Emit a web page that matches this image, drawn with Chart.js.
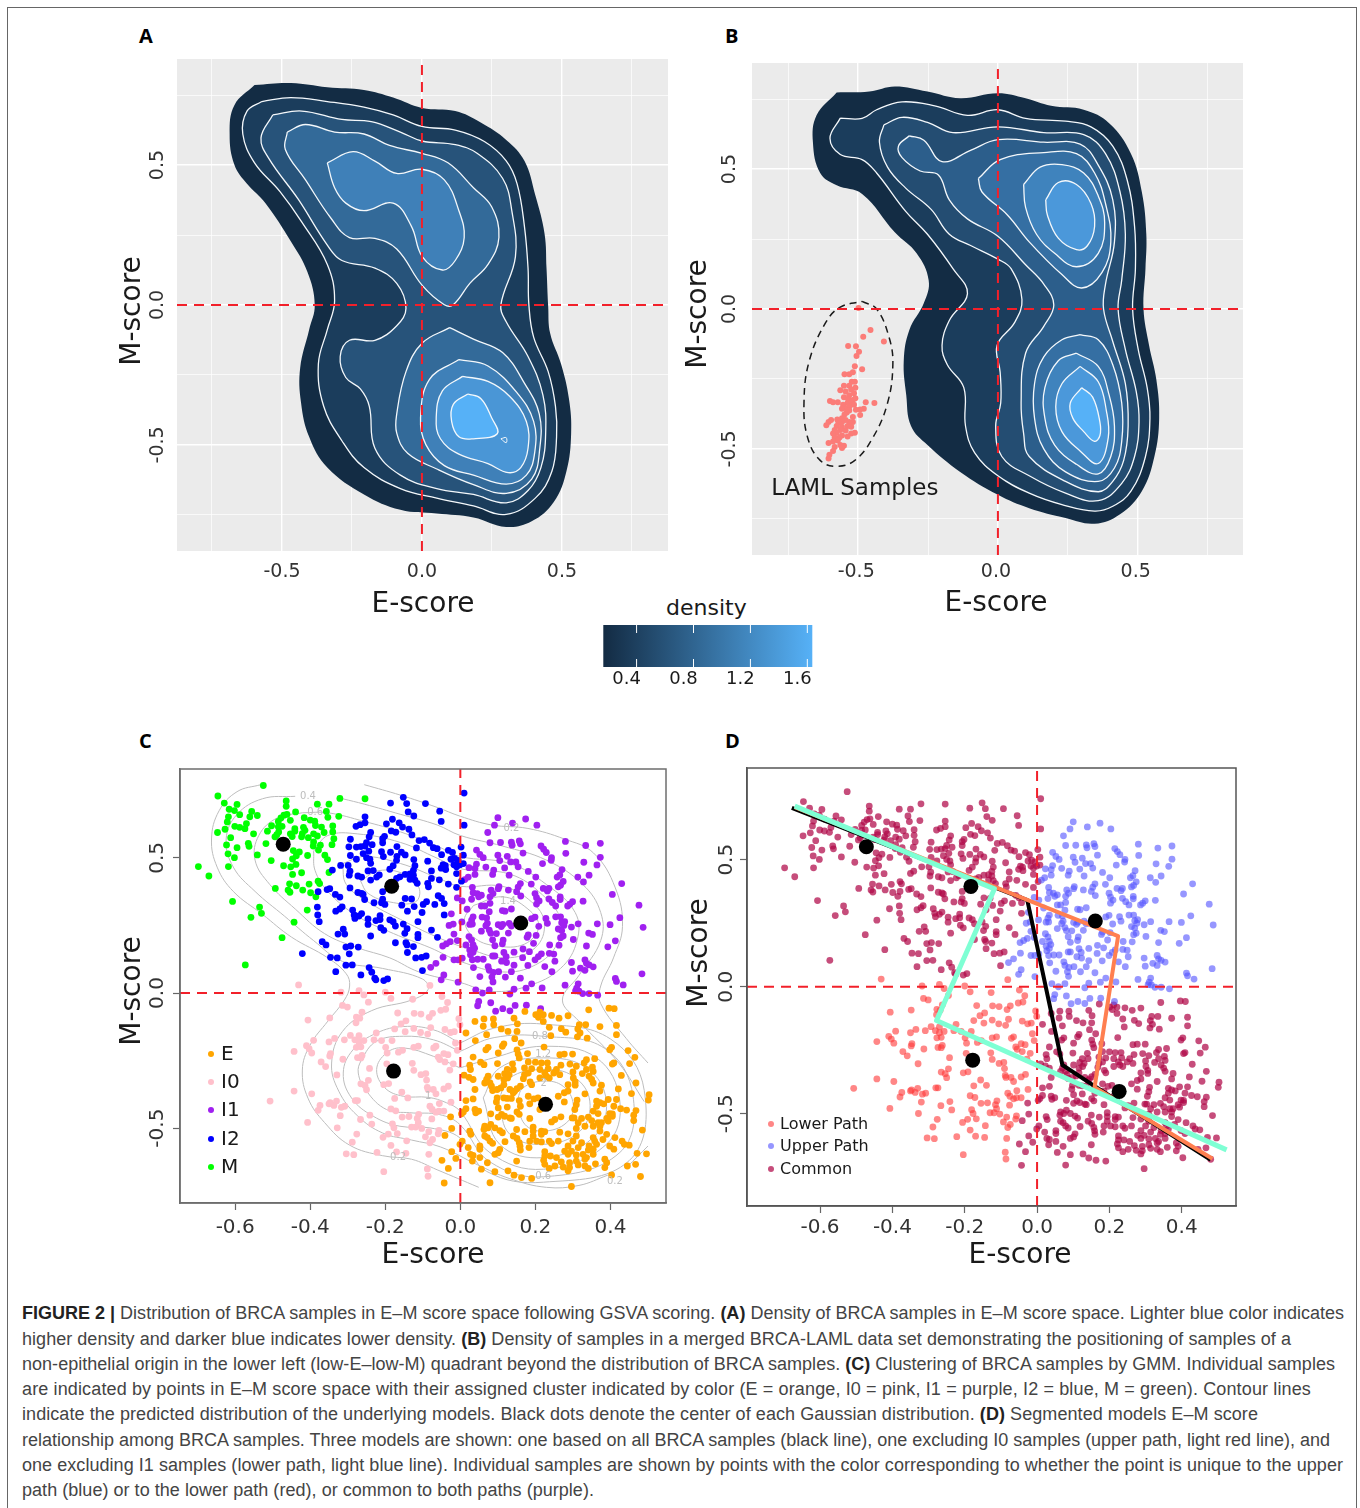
<!DOCTYPE html>
<html>
<head>
<meta charset="utf-8">
<title>Figure 2</title>
<script src="https://cdn.jsdelivr.net/npm/chart.js@4"></script>
<style>
  html, body { margin: 0; padding: 0; background: #fff; }
  #figure { position: relative; width: 1360px; height: 1508px; overflow: hidden; }
  #frame { position: absolute; left: 7px; top: 7px; width: 1348px; height: 1520px; border: 1px solid #666; }
  #figure canvas { position: absolute; }
  .letter { position: absolute; font: bold 20px "Open Sans", sans-serif; color: #000; }
  .density { position: absolute; left: 666px; top: 595px; font: 22px "DejaVu Sans", sans-serif; color: #1a1a1a; }
  .cap { position: absolute; left: 22px; white-space: nowrap; font: 18px/24px "Liberation Sans", sans-serif; color: #444; }
  .cap b { color: #222; }
</style>
</head>
<body>
<div id="figure">
  <div id="frame"></div>
  <div class="letter" style="left:139px;top:22px">A</div>
  <div class="letter" style="left:725px;top:22px">B</div>
  <div class="letter" style="left:139px;top:727px">C</div>
  <div class="letter" style="left:725px;top:727px">D</div>
  <div class="density">density</div>
  <div class="cap" style="top:1301px"><b>FIGURE 2 |</b> Distribution of BRCA samples in E–M score space following GSVA scoring. <b>(A)</b> Density of BRCA samples in E–M score space. Lighter blue color indicates</div>
  <div class="cap" style="top:1327px">higher density and darker blue indicates lower density. <b>(B)</b> Density of samples in a merged BRCA-LAML data set demonstrating the positioning of samples of a</div>
  <div class="cap" style="top:1352px">non-epithelial origin in the lower left (low-E–low-M) quadrant beyond the distribution of BRCA samples. <b>(C)</b> Clustering of BRCA samples by GMM. Individual samples</div>
  <div class="cap" style="top:1377px">are indicated by points in E–M score space with their assigned cluster indicated by color (E = orange, I0 = pink, I1 = purple, I2 = blue, M = green). Contour lines</div>
  <div class="cap" style="top:1402px">indicate the predicted distribution of the underlying models. Black dots denote the center of each Gaussian distribution. <b>(D)</b> Segmented models E–M score</div>
  <div class="cap" style="top:1428px">relationship among BRCA samples. Three models are shown: one based on all BRCA samples (black line), one excluding I0 samples (upper path, light red line), and</div>
  <div class="cap" style="top:1453px">one excluding I1 samples (lower path, light blue line). Individual samples are shown by points with the color corresponding to whether the point is unique to the upper</div>
  <div class="cap" style="top:1478px">path (blue) or to the lower path (red), or common to both paths (purple).</div>
</div>
<script>
// tick labels
const densityGridTicks = [-0.75, -0.5, -0.25, 0, 0.25, 0.5, 0.75];
const densityLabelTicks = [-0.5, 0, 0.5];
const scatterXTicks = [-0.6, -0.4, -0.2, 0, 0.2, 0.4];
const scatterYTicks = [-0.5, 0, 0.5];
const colorbarTicks = [0.4, 0.8, 1.2, 1.6];
const colorbarRange = [0.166, 1.635];

// panel A, density levels (E-score, M-score)
const aLevel0 = [[-0.598,0.786],[-0.468,0.793],[-0.338,0.778],[-0.207,0.768],[-0.103,0.741],[0,0.704],[0.119,0.693],[0.21,0.652],[0.301,0.59],[0.366,0.515],[0.405,0.392],[0.438,0.255],[0.445,0.132],[0.451,-0.005],[0.458,-0.101],[0.497,-0.211],[0.525,-0.334],[0.533,-0.458],[0.516,-0.595],[0.471,-0.704],[0.392,-0.773],[0.301,-0.793],[0.184,-0.759],[0.053,-0.745],[-0.077,-0.732],[-0.207,-0.677],[-0.338,-0.581],[-0.403,-0.471],[-0.432,-0.348],[-0.435,-0.225],[-0.403,-0.088],[-0.383,0.001],[-0.409,0.118],[-0.468,0.227],[-0.559,0.364],[-0.625,0.433],[-0.67,0.501],[-0.687,0.611],[-0.67,0.714]];
const aLevel1 = [[-0.572,0.727],[-0.468,0.741],[-0.338,0.727],[-0.207,0.707],[-0.103,0.679],[0,0.638],[0.119,0.625],[0.223,0.584],[0.301,0.515],[0.34,0.433],[0.366,0.282],[0.379,0.132],[0.382,0.001],[0.399,-0.115],[0.451,-0.238],[0.477,-0.362],[0.481,-0.471],[0.464,-0.595],[0.405,-0.69],[0.301,-0.748],[0.184,-0.718],[0.053,-0.69],[-0.077,-0.656],[-0.207,-0.581],[-0.286,-0.485],[-0.351,-0.362],[-0.37,-0.211],[-0.338,-0.088],[-0.312,0.015],[-0.338,0.145],[-0.429,0.296],[-0.507,0.405],[-0.598,0.508],[-0.64,0.611],[-0.625,0.693]];
const aLevel2 = [[-0.533,0.679],[-0.429,0.693],[-0.286,0.663],[-0.181,0.655],[-0.077,0.618],[0,0.586],[0.119,0.573],[0.197,0.542],[0.288,0.453],[0.321,0.337],[0.334,0.173],[0.282,0.001],[0.301,-0.06],[0.379,-0.184],[0.432,-0.321],[0.442,-0.458],[0.425,-0.581],[0.379,-0.663],[0.301,-0.707],[0.184,-0.677],[0.053,-0.656],[-0.077,-0.608],[-0.168,-0.512],[-0.188,-0.362],[-0.22,-0.3],[-0.272,-0.259],[-0.292,-0.184],[-0.259,-0.126],[-0.168,-0.126],[-0.09,-0.074],[-0.057,-0.012],[-0.09,0.077],[-0.168,0.132],[-0.286,0.159],[-0.338,0.214],[-0.442,0.378],[-0.546,0.522],[-0.575,0.597]];
const aLevel3Upper = [[-0.481,0.618],[-0.416,0.645],[-0.312,0.618],[-0.207,0.611],[-0.116,0.57],[0,0.542],[0.093,0.508],[0.184,0.419],[0.249,0.351],[0.275,0.241],[0.236,0.145],[0.171,0.077],[0.112,0.001],[0.08,0.001],[0.001,0.07],[-0.09,0.2],[-0.168,0.238],[-0.259,0.241],[-0.325,0.31],[-0.416,0.447],[-0.488,0.556]];
const aLevel3Lower = [[0.099,-0.081],[0.184,-0.122],[0.288,-0.17],[0.366,-0.279],[0.419,-0.389],[0.421,-0.512],[0.392,-0.622],[0.301,-0.673],[0.184,-0.642],[0.053,-0.586],[-0.051,-0.53],[-0.09,-0.458],[-0.09,-0.389],[-0.057,-0.238],[0.001,-0.136]];
const aLevel4Upper = [[-0.338,0.508],[-0.246,0.548],[-0.168,0.514],[-0.09,0.47],[0,0.485],[0.08,0.447],[0.132,0.337],[0.151,0.241],[0.119,0.159],[0.073,0.125],[0.001,0.173],[-0.038,0.282],[-0.103,0.364],[-0.207,0.337],[-0.272,0.364],[-0.312,0.419]];
const aLevel4Lower = [[0.132,-0.195],[0.236,-0.218],[0.34,-0.314],[0.399,-0.416],[0.403,-0.526],[0.373,-0.608],[0.301,-0.64],[0.184,-0.608],[0.08,-0.574],[0.014,-0.499],[-0.005,-0.403],[0.027,-0.266]];
const aLevel5 = [[0.145,-0.255],[0.236,-0.273],[0.314,-0.327],[0.373,-0.416],[0.379,-0.512],[0.353,-0.581],[0.308,-0.599],[0.236,-0.567],[0.132,-0.533],[0.066,-0.478],[0.051,-0.403],[0.073,-0.307]];
const aLevel6 = [[0.164,-0.318],[0.21,-0.334],[0.249,-0.403],[0.269,-0.46],[0.184,-0.478],[0.132,-0.471],[0.106,-0.416],[0.112,-0.355]];
const aLevel7 = [[0.282,-0.478],[0.301,-0.474],[0.301,-0.492]];

// panel B, density levels
const bLevel0 = [[-0.577,0.774],[-0.46,0.777],[-0.369,0.795],[-0.252,0.777],[-0.135,0.753],[0,0.771],[0.099,0.753],[0.19,0.726],[0.307,0.712],[0.398,0.664],[0.476,0.555],[0.515,0.418],[0.531,0.267],[0.528,0.144],[0.521,0],[0.541,-0.13],[0.567,-0.253],[0.577,-0.39],[0.56,-0.527],[0.515,-0.651],[0.437,-0.733],[0.346,-0.767],[0.242,-0.747],[0.112,-0.712],[0,-0.664],[-0.135,-0.582],[-0.252,-0.486],[-0.311,-0.418],[-0.328,-0.308],[-0.337,-0.185],[-0.317,-0.075],[-0.265,0.021],[-0.248,0.103],[-0.291,0.199],[-0.369,0.274],[-0.486,0.411],[-0.577,0.442],[-0.636,0.486],[-0.662,0.596],[-0.649,0.692]];
const bLevel1 = [[-0.564,0.682],[-0.486,0.681],[-0.434,0.712],[-0.343,0.74],[-0.226,0.726],[-0.109,0.692],[0,0.712],[0.099,0.681],[0.242,0.671],[0.333,0.651],[0.411,0.582],[0.463,0.459],[0.489,0.295],[0.492,0.144],[0.482,0],[0.502,-0.144],[0.534,-0.281],[0.544,-0.39],[0.528,-0.527],[0.476,-0.651],[0.411,-0.705],[0.346,-0.722],[0.229,-0.699],[0.112,-0.658],[0,-0.596],[-0.083,-0.514],[-0.116,-0.418],[-0.122,-0.281],[-0.181,-0.199],[-0.2,-0.13],[-0.174,-0.041],[-0.109,0.055],[-0.161,0.144],[-0.252,0.267],[-0.33,0.349],[-0.434,0.486],[-0.486,0.534],[-0.564,0.552],[-0.601,0.61]];
const bLevel2 = [[-0.408,0.658],[-0.343,0.685],[-0.252,0.667],[-0.161,0.63],[0,0.651],[0.164,0.63],[0.307,0.623],[0.385,0.555],[0.437,0.418],[0.456,0.267],[0.443,0.103],[0.43,0],[0.456,-0.144],[0.495,-0.295],[0.505,-0.404],[0.489,-0.527],[0.443,-0.623],[0.359,-0.685],[0.242,-0.658],[0.112,-0.596],[0.014,-0.527],[-0.008,-0.418],[0.01,-0.336],[0.008,-0.226],[-0.003,-0.13],[0.06,-0.048],[0.086,0.034],[0.047,0.144],[0,0.178],[-0.096,0.226],[-0.174,0.267],[-0.239,0.356],[-0.33,0.432],[-0.395,0.507],[-0.424,0.596]];
const bLevel3 = [[-0.317,0.619],[-0.265,0.603],[-0.2,0.527],[-0.096,0.568],[0,0.605],[0.164,0.596],[0.294,0.589],[0.359,0.514],[0.411,0.39],[0.417,0.24],[0.385,0.089],[0.378,0],[0.411,-0.116],[0.456,-0.267],[0.466,-0.418],[0.45,-0.541],[0.411,-0.616],[0.359,-0.653],[0.242,-0.616],[0.112,-0.527],[0.092,-0.445],[0.083,-0.336],[0.099,-0.158],[0.164,-0.062],[0.2,0.014],[0.164,0.089],[0.099,0.158],[0,0.26],[-0.109,0.322],[-0.174,0.39],[-0.213,0.479],[-0.278,0.493],[-0.343,0.541],[-0.356,0.582]];
const bLevel4Upper = [[-0.07,0.466],[0.008,0.534],[0.164,0.559],[0.281,0.555],[0.346,0.486],[0.385,0.377],[0.404,0.24],[0.372,0.13],[0.3,0.075],[0.229,0.123],[0.112,0.24],[0.034,0.336],[-0.057,0.418]];
const bLevel4Lower = [[0.294,-0.092],[0.359,-0.11],[0.411,-0.199],[0.443,-0.336],[0.443,-0.473],[0.417,-0.568],[0.359,-0.616],[0.242,-0.582],[0.164,-0.5],[0.131,-0.39],[0.131,-0.267],[0.164,-0.171],[0.229,-0.11]];
const bLevel5Upper = [[0.092,0.445],[0.151,0.507],[0.229,0.516],[0.307,0.486],[0.359,0.404],[0.382,0.308],[0.359,0.199],[0.281,0.151],[0.203,0.199],[0.138,0.267],[0.099,0.363]];
const bLevel5Lower = [[0.281,-0.158],[0.359,-0.205],[0.398,-0.308],[0.417,-0.418],[0.404,-0.527],[0.359,-0.589],[0.281,-0.555],[0.203,-0.486],[0.168,-0.39],[0.168,-0.281],[0.216,-0.185]];
const bLevel6Upper = [[0.171,0.39],[0.216,0.452],[0.281,0.445],[0.333,0.377],[0.346,0.295],[0.32,0.226],[0.281,0.212],[0.216,0.253],[0.177,0.336]];
const bLevel6Lower = [[0.294,-0.205],[0.359,-0.26],[0.388,-0.363],[0.395,-0.459],[0.359,-0.552],[0.294,-0.507],[0.229,-0.438],[0.207,-0.349],[0.229,-0.267]];
const bLevel7 = [[0.3,-0.281],[0.339,-0.315],[0.365,-0.404],[0.365,-0.452],[0.346,-0.473],[0.307,-0.438],[0.268,-0.39],[0.259,-0.336]];
const lamlOutline = [[-0.486,0.027],[-0.434,0],[-0.389,-0.103],[-0.376,-0.199],[-0.395,-0.336],[-0.447,-0.459],[-0.512,-0.541],[-0.577,-0.562],[-0.636,-0.541],[-0.681,-0.459],[-0.694,-0.336],[-0.675,-0.185],[-0.616,-0.048],[-0.564,0.007]];
const lamlSamples = [[-0.499,0.004],[-0.456,-0.075],[-0.482,-0.099],[-0.408,-0.116],[-0.536,-0.132],[-0.508,-0.133],[-0.497,-0.153],[-0.506,-0.168],[-0.512,-0.205],[-0.486,-0.215],[-0.549,-0.233],[-0.532,-0.233],[-0.519,-0.226],[-0.523,-0.26],[-0.512,-0.26],[-0.532,-0.274],[-0.551,-0.274],[-0.564,-0.29],[-0.51,-0.281],[-0.525,-0.288],[-0.545,-0.295],[-0.515,-0.301],[-0.532,-0.308],[-0.551,-0.315],[-0.51,-0.319],[-0.536,-0.322],[-0.519,-0.325],[-0.525,-0.336],[-0.538,-0.336],[-0.554,-0.342],[-0.601,-0.329],[-0.59,-0.333],[-0.573,-0.333],[-0.473,-0.333],[-0.442,-0.336],[-0.515,-0.342],[-0.532,-0.349],[-0.549,-0.353],[-0.558,-0.356],[-0.48,-0.356],[-0.493,-0.359],[-0.508,-0.36],[-0.532,-0.363],[-0.541,-0.37],[-0.549,-0.377],[-0.493,-0.379],[-0.519,-0.386],[-0.558,-0.39],[-0.575,-0.395],[-0.597,-0.397],[-0.606,-0.404],[-0.614,-0.415],[-0.519,-0.404],[-0.532,-0.404],[-0.545,-0.397],[-0.558,-0.404],[-0.571,-0.407],[-0.577,-0.418],[-0.538,-0.418],[-0.525,-0.421],[-0.558,-0.422],[-0.584,-0.432],[-0.564,-0.432],[-0.545,-0.434],[-0.512,-0.442],[-0.525,-0.445],[-0.577,-0.442],[-0.59,-0.445],[-0.558,-0.452],[-0.567,-0.459],[-0.584,-0.459],[-0.538,-0.456],[-0.573,-0.47],[-0.59,-0.473],[-0.606,-0.479],[-0.564,-0.486],[-0.551,-0.489],[-0.558,-0.497],[-0.584,-0.493],[-0.59,-0.507],[-0.603,-0.521],[-0.606,-0.534]];

// samples by GMM cluster, same samples in panels C and D
const clusterM = [[-0.525,0.768],[-0.646,0.729],[-0.629,0.703],[-0.595,0.698],[-0.616,0.68],[-0.602,0.675],[-0.588,0.66],[-0.618,0.652],[-0.621,0.633],[-0.556,0.672],[-0.561,0.652],[-0.541,0.657],[-0.57,0.627],[-0.601,0.617],[-0.588,0.613],[-0.574,0.608],[-0.627,0.606],[-0.647,0.594],[-0.551,0.589],[-0.612,0.575],[-0.623,0.548],[-0.595,0.538],[-0.565,0.554],[-0.563,0.543],[-0.619,0.515],[-0.602,0.501],[-0.541,0.511],[-0.518,0.553],[-0.698,0.468],[-0.618,0.468],[-0.67,0.433],[-0.504,0.49],[-0.471,0.471],[-0.464,0.711],[-0.464,0.691],[-0.439,0.67],[-0.381,0.699],[-0.35,0.699],[-0.357,0.672],[-0.353,0.65],[-0.462,0.661],[-0.47,0.658],[-0.478,0.648],[-0.485,0.635],[-0.453,0.639],[-0.503,0.619],[-0.485,0.615],[-0.475,0.617],[-0.514,0.599],[-0.484,0.596],[-0.489,0.586],[-0.494,0.578],[-0.441,0.608],[-0.441,0.599],[-0.453,0.589],[-0.448,0.579],[-0.416,0.649],[-0.4,0.64],[-0.388,0.636],[-0.386,0.62],[-0.418,0.613],[-0.414,0.602],[-0.421,0.59],[-0.423,0.578],[-0.405,0.575],[-0.391,0.589],[-0.381,0.581],[-0.37,0.614],[-0.363,0.594],[-0.34,0.618],[-0.34,0.596],[-0.337,0.571],[-0.342,0.549],[-0.391,0.559],[-0.392,0.544],[-0.373,0.547],[-0.378,0.529],[-0.445,0.527],[-0.429,0.522],[-0.437,0.508],[-0.447,0.496],[-0.407,0.509],[-0.361,0.51],[-0.354,0.494],[-0.438,0.476],[-0.452,0.467],[-0.423,0.445],[-0.447,0.439],[-0.35,0.446],[-0.455,0.404],[-0.437,0.397],[-0.403,0.403],[-0.379,0.414],[-0.375,0.405],[-0.493,0.387],[-0.459,0.381],[-0.454,0.373],[-0.42,0.381],[-0.399,0.371],[-0.385,0.356],[-0.607,0.339],[-0.535,0.318],[-0.53,0.295],[-0.558,0.28],[-0.408,0.307],[-0.443,0.262],[-0.475,0.205],[-0.573,0.104],[-0.321,0.72],[-0.254,0.719],[-0.324,0.654]];
const clusterI2 = [[0.01,0.74],[-0.152,0.724],[-0.186,0.703],[-0.143,0.701],[-0.093,0.701],[-0.139,0.67],[-0.055,0.673],[-0.124,0.655],[-0.051,0.635],[-0.254,0.652],[0.01,0.621],[-0.254,0.63],[-0.267,0.623],[-0.278,0.617],[-0.181,0.643],[-0.197,0.626],[-0.163,0.63],[-0.154,0.614],[-0.184,0.6],[-0.172,0.595],[-0.137,0.606],[-0.129,0.585],[-0.239,0.594],[-0.243,0.578],[-0.293,0.569],[-0.202,0.58],[-0.207,0.571],[-0.11,0.564],[-0.096,0.568],[-0.082,0.555],[-0.25,0.556],[-0.235,0.549],[-0.297,0.541],[-0.277,0.54],[-0.265,0.542],[-0.254,0.544],[-0.207,0.556],[-0.169,0.542],[-0.117,0.537],[-0.072,0.538],[-0.062,0.534],[-0.032,0.528],[-0.021,0.52],[0.002,0.54],[0.008,0.51],[-0.21,0.523],[-0.244,0.525],[-0.259,0.516],[-0.186,0.521],[-0.157,0.521],[-0.147,0.511],[-0.293,0.509],[-0.25,0.501],[-0.277,0.495],[-0.205,0.505],[-0.169,0.506],[-0.17,0.491],[-0.05,0.512],[-0.124,0.494],[-0.087,0.488],[-0.025,0.495],[-0.015,0.498],[-0.006,0.491],[-0.017,0.475],[-0.001,0.475],[-0.01,0.467],[0.008,0.479],[-0.241,0.495],[-0.239,0.48],[-0.179,0.471],[-0.319,0.472],[-0.299,0.472],[-0.121,0.471],[-0.188,0.458],[-0.046,0.475],[-0.04,0.471],[-0.051,0.462],[-0.341,0.455],[-0.294,0.451],[-0.246,0.452],[-0.232,0.453],[-0.125,0.454],[-0.077,0.452],[-0.039,0.457],[-0.01,0.442],[-0.296,0.436],[-0.134,0.441],[-0.147,0.439],[-0.161,0.43],[-0.125,0.436],[-0.273,0.433],[-0.263,0.429],[-0.216,0.437],[-0.223,0.429],[-0.239,0.418],[-0.17,0.424],[-0.134,0.421],[-0.121,0.418],[-0.115,0.406],[-0.077,0.424],[-0.056,0.419],[-0.087,0.406],[-0.032,0.403],[0.003,0.414],[-0.294,0.389],[-0.085,0.393],[-0.01,0.391],[-0.273,0.372],[-0.263,0.369],[-0.355,0.383],[-0.348,0.386],[-0.379,0.375],[-0.207,0.375],[-0.259,0.365],[-0.333,0.365],[-0.321,0.355],[-0.255,0.346],[-0.147,0.35],[-0.13,0.348],[-0.059,0.36],[-0.05,0.35],[-0.23,0.334],[-0.207,0.347],[-0.21,0.334],[-0.201,0.328],[-0.156,0.325],[-0.09,0.338],[-0.099,0.328],[-0.123,0.32],[-0.141,0.303],[-0.068,0.328],[-0.043,0.331],[-0.381,0.318],[-0.315,0.319],[-0.321,0.311],[-0.332,0.303],[-0.287,0.307],[-0.102,0.298],[-0.043,0.289],[-0.38,0.289],[-0.283,0.289],[-0.281,0.276],[-0.27,0.285],[-0.263,0.294],[-0.376,0.264],[-0.246,0.274],[-0.246,0.254],[-0.225,0.268],[-0.214,0.272],[-0.214,0.286],[-0.188,0.271],[-0.179,0.264],[-0.113,0.264],[-0.173,0.248],[-0.152,0.255],[-0.212,0.242],[-0.204,0.232],[-0.142,0.238],[-0.148,0.221],[-0.077,0.233],[-0.312,0.236],[-0.326,0.218],[-0.308,0.218],[-0.113,0.217],[-0.113,0.205],[-0.061,0.206],[-0.239,0.211],[-0.368,0.19],[-0.358,0.178],[-0.173,0.186],[-0.145,0.186],[-0.142,0.178],[-0.125,0.172],[-0.305,0.17],[-0.292,0.174],[-0.272,0.17],[-0.141,0.15],[-0.296,0.145],[-0.421,0.146],[-0.346,0.132],[-0.328,0.13],[-0.119,0.13],[-0.103,0.132],[-0.091,0.137],[-0.305,0.103],[-0.288,0.104],[-0.332,0.079],[-0.243,0.094],[-0.265,0.067],[-0.236,0.077],[-0.228,0.055],[-0.225,0.049],[-0.204,0.046],[-0.194,0.052],[-0.101,0.083]];
const clusterI1 = [[0.1,0.649],[0.174,0.644],[0.091,0.621],[0.139,0.629],[0.204,0.621],[0.073,0.594],[0.079,0.556],[0.107,0.557],[0.136,0.558],[0.138,0.547],[0.157,0.563],[0.16,0.552],[0.28,0.561],[0.334,0.546],[0.373,0.554],[0.215,0.544],[0.222,0.532],[0.229,0.52],[0.281,0.517],[0.043,0.529],[0.052,0.513],[0.061,0.501],[0.1,0.51],[0.125,0.506],[0.167,0.518],[0.243,0.501],[0.242,0.491],[0.373,0.502],[0.329,0.484],[0.364,0.474],[0.105,0.49],[0.134,0.485],[0.148,0.485],[0.219,0.479],[0.154,0.467],[0.043,0.477],[0.039,0.461],[0.023,0.464],[0.068,0.466],[0.118,0.463],[0.089,0.455],[0.086,0.439],[0.181,0.45],[0.271,0.457],[0.201,0.429],[0.13,0.436],[0.039,0.439],[0.021,0.429],[0.012,0.42],[0.265,0.437],[0.258,0.429],[0.313,0.429],[0.343,0.436],[0.328,0.411],[0.274,0.413],[0.267,0.399],[0.261,0.393],[0.43,0.405],[0.16,0.405],[0.154,0.392],[0.189,0.403],[0.103,0.394],[0.101,0.386],[0.128,0.381],[0.15,0.375],[0.032,0.391],[0.034,0.371],[0.045,0.368],[0.056,0.362],[0.049,0.356],[0.082,0.381],[0.087,0.368],[0.079,0.356],[0.221,0.387],[0.236,0.387],[0.232,0.378],[0.199,0.368],[0.161,0.359],[0.405,0.365],[0.203,0.353],[0.21,0.341],[0.266,0.356],[0.266,0.346],[0.236,0.348],[-0.008,0.352],[0.005,0.341],[0.03,0.347],[0.079,0.332],[0.245,0.335],[0.254,0.322],[0.299,0.338],[0.292,0.329],[0.286,0.322],[0.327,0.34],[0.203,0.329],[0.056,0.322],[0.065,0.322],[0.476,0.325],[0.018,0.31],[0.077,0.301],[0.112,0.305],[0.136,0.311],[0.119,0.303],[-0.024,0.293],[0.058,0.281],[0.07,0.278],[0.034,0.282],[0.03,0.27],[0.199,0.281],[0.19,0.275],[0.228,0.276],[0.254,0.282],[0.267,0.282],[0.278,0.264],[0.425,0.279],[-0.019,0.255],[-0.03,0.25],[0.004,0.263],[0.025,0.254],[0.032,0.255],[0.072,0.258],[0.068,0.249],[0.101,0.253],[0.113,0.254],[0.109,0.246],[0.13,0.258],[0.136,0.248],[0.209,0.247],[0.232,0.258],[0.27,0.26],[0.276,0.25],[0.261,0.237],[0.27,0.231],[0.296,0.244],[0.314,0.256],[0.365,0.256],[0.399,0.253],[0.487,0.243],[0.056,0.229],[0.077,0.233],[0.081,0.221],[0.096,0.22],[0.128,0.222],[0.181,0.215],[0.178,0.206],[0.202,0.213],[0.274,0.211],[0.267,0.205],[-0.017,0.218],[0.342,0.222],[0.352,0.217],[0.301,0.198],[0.413,0.193],[0.023,0.209],[0.03,0.196],[0.086,0.197],[0.114,0.196],[0.112,0.182],[0.092,0.175],[0.195,0.184],[0.238,0.178],[0.263,0.177],[0.336,0.174],[0.393,0.171],[-0.008,0.194],[-0.027,0.19],[-0.037,0.182],[-0.047,0.174],[0.015,0.178],[0.034,0.178],[0.038,0.166],[0.025,0.159],[0.034,0.151],[0.027,0.142],[0.167,0.163],[0.184,0.153],[0.143,0.151],[0.116,0.15],[0.092,0.137],[0.086,0.137],[0.122,0.135],[0.216,0.145],[0.208,0.135],[0.199,0.123],[0.237,0.147],[0.249,0.144],[0.166,0.131],[-0.046,0.132],[-0.017,0.123],[-0.006,0.123],[0.005,0.129],[0.032,0.123],[0.046,0.125],[0.061,0.125],[0.11,0.118],[0.123,0.113],[0.143,0.103],[0.18,0.102],[0.252,0.118],[0.225,0.098],[0.296,0.113],[0.332,0.123],[0.336,0.11],[0.343,0.104],[0.354,0.097],[-0.065,0.11],[-0.079,0.095],[0.035,0.094],[0.074,0.098],[0.077,0.084],[0.136,0.079],[0.102,0.079],[0.088,0.076],[0.052,0.061],[0.244,0.079],[0.299,0.081],[0.32,0.092],[0.332,0.084],[0.484,0.071],[-0.044,0.067],[-0.051,0.049],[-0.006,0.04],[0.084,0.059],[0.087,0.041],[0.12,0.059],[0.16,0.055],[0.413,0.054],[0.416,0.043],[0.434,0.03],[0.19,0.034],[0.175,0.018],[0.218,0.019],[0.279,0.029],[0.314,0.034],[0.31,0.018],[0.307,0.008],[0.316,0.007],[0.143,0.014],[0.041,0.012],[0.077,0.012],[0.059,0],[0.132,-0.004],[0.326,-0.002],[0.343,-0.002],[0.366,-0.008],[0.049,-0.031],[0.046,-0.047],[0.081,-0.036],[0.094,-0.067],[0.113,-0.058],[0.132,-0.066],[0.146,-0.046],[0.176,-0.045],[0.214,-0.058]];
const clusterI0 = [[-0.431,0.03],[-0.318,0.003],[-0.27,0.009],[-0.257,-0.007],[-0.2,0.003],[-0.185,-0.02],[-0.081,0.028],[-0.127,-0.023],[-0.049,-0.013],[-0.034,-0.035],[-0.245,-0.034],[-0.314,-0.046],[-0.301,-0.052],[-0.052,-0.064],[-0.039,-0.06],[-0.167,-0.074],[-0.123,-0.075],[-0.105,-0.078],[-0.074,-0.075],[-0.083,-0.09],[-0.262,-0.071],[-0.277,-0.089],[-0.268,-0.093],[-0.348,-0.092],[-0.406,-0.1],[-0.278,-0.11],[-0.145,-0.103],[-0.158,-0.114],[-0.004,-0.095],[-0.001,-0.117],[-0.175,-0.133],[-0.124,-0.131],[-0.147,-0.143],[-0.079,-0.128],[-0.106,-0.146],[-0.041,-0.135],[-0.087,-0.152],[-0.026,-0.146],[-0.016,-0.143],[-0.224,-0.148],[-0.293,-0.157],[-0.27,-0.158],[-0.335,-0.168],[-0.309,-0.173],[-0.23,-0.173],[-0.391,-0.175],[-0.281,-0.173],[-0.257,-0.176],[-0.21,-0.176],[-0.182,-0.176],[-0.35,-0.181],[-0.27,-0.181],[-0.013,-0.185],[-0.41,-0.195],[-0.199,-0.201],[-0.277,-0.201],[-0.265,-0.199],[-0.112,-0.197],[-0.124,-0.201],[-0.065,-0.197],[-0.071,-0.203],[-0.008,-0.212],[-0.403,-0.206],[-0.443,-0.216],[-0.396,-0.222],[-0.195,-0.222],[-0.154,-0.212],[-0.165,-0.219],[-0.044,-0.224],[-0.033,-0.228],[-0.346,-0.224],[-0.348,-0.233],[-0.262,-0.231],[-0.274,-0.239],[-0.265,-0.24],[-0.059,-0.237],[-0.055,-0.246],[-0.041,-0.255],[-0.019,-0.262],[-0.313,-0.245],[-0.371,-0.255],[-0.359,-0.272],[-0.196,-0.262],[-0.128,-0.26],[-0.242,-0.279],[-0.124,-0.286],[-0.028,-0.285],[-0.105,-0.302],[-0.092,-0.298],[-0.329,-0.303],[-0.245,-0.323],[-0.09,-0.322],[-0.265,-0.336],[-0.254,-0.342],[-0.204,-0.339],[-0.191,-0.335],[-0.032,-0.345],[-0.044,-0.355],[-0.088,-0.349],[-0.086,-0.357],[-0.25,-0.358],[-0.443,-0.363],[-0.072,-0.357],[-0.065,-0.373],[-0.396,-0.373],[-0.156,-0.367],[-0.175,-0.39],[-0.14,-0.388],[-0.274,-0.398],[-0.28,-0.398],[-0.507,-0.4],[-0.347,-0.406],[-0.35,-0.41],[-0.33,-0.4],[-0.337,-0.416],[-0.025,-0.404],[-0.056,-0.409],[-0.374,-0.416],[-0.308,-0.419],[-0.317,-0.423],[-0.379,-0.434],[-0.185,-0.429],[-0.172,-0.436],[-0.081,-0.419],[-0.075,-0.431],[-0.057,-0.437],[-0.044,-0.437],[-0.065,-0.441],[-0.241,-0.452],[-0.32,-0.454],[-0.111,-0.449],[-0.137,-0.457],[-0.155,-0.459],[-0.266,-0.468],[-0.076,-0.466],[-0.115,-0.464],[-0.407,-0.479],[-0.236,-0.485],[-0.181,-0.484],[-0.177,-0.499],[-0.112,-0.48],[-0.13,-0.496],[-0.119,-0.496],[-0.103,-0.501],[-0.328,-0.499],[-0.276,-0.522],[-0.192,-0.522],[-0.168,-0.52],[-0.084,-0.513],[-0.057,-0.508],[-0.059,-0.521],[-0.093,-0.532],[-0.206,-0.534],[-0.143,-0.547],[-0.074,-0.542],[-0.081,-0.554],[-0.288,-0.552],[-0.185,-0.564],[-0.222,-0.59],[-0.304,-0.595],[-0.284,-0.598],[-0.17,-0.588],[-0.145,-0.593],[-0.084,-0.597],[-0.088,-0.651],[-0.204,-0.661],[-0.086,-0.678]];
const clusterE = [[0.172,-0.068],[0.201,-0.08],[0.212,-0.071],[0.221,-0.08],[0.208,-0.09],[0.243,-0.083],[0.263,-0.093],[0.287,-0.084],[0.342,-0.062],[0.396,-0.056],[0.41,-0.058],[0.143,-0.093],[0.088,-0.096],[0.063,-0.096],[0.039,-0.105],[0.089,-0.117],[0.061,-0.123],[0.152,-0.114],[0.221,-0.105],[0.334,-0.117],[0.372,-0.124],[0.416,-0.12],[0.237,-0.127],[0.269,-0.132],[0.281,-0.145],[0.317,-0.117],[0.313,-0.133],[0.319,-0.148],[0.109,-0.133],[0.127,-0.142],[0.151,-0.142],[0.015,-0.148],[0.07,-0.154],[0.241,-0.158],[0.312,-0.162],[0.338,-0.167],[0.416,-0.154],[0.145,-0.169],[0.04,-0.176],[0.162,-0.185],[0.116,-0.188],[0.112,-0.197],[0.074,-0.201],[0.068,-0.21],[0.223,-0.2],[0.403,-0.201],[0.398,-0.21],[0.447,-0.213],[0.151,-0.21],[0.154,-0.226],[0.101,-0.222],[0.179,-0.224],[0.265,-0.228],[0.277,-0.226],[0.299,-0.226],[0.034,-0.237],[0.465,-0.238],[0.157,-0.24],[0.358,-0.243],[0.336,-0.247],[0.33,-0.259],[0.409,-0.259],[0.405,-0.263],[0.054,-0.256],[0.063,-0.265],[0.099,-0.261],[0.139,-0.262],[0.181,-0.255],[0.2,-0.256],[0.216,-0.259],[0.232,-0.259],[0.268,-0.267],[0.451,-0.261],[0.025,-0.267],[0.292,-0.263],[0.309,-0.271],[0.352,-0.274],[0.336,-0.283],[0.027,-0.283],[0.125,-0.283],[0.141,-0.283],[0.171,-0.277],[0.19,-0.28],[0.212,-0.283],[0.234,-0.28],[0.256,-0.283],[0.3,-0.292],[0.354,-0.29],[0.01,-0.304],[0.023,-0.312],[0.034,-0.32],[0.074,-0.308],[0.101,-0.308],[0.118,-0.298],[0.13,-0.302],[0.171,-0.302],[0.181,-0.296],[0.225,-0.296],[0.249,-0.296],[0.265,-0.302],[0.325,-0.298],[0.343,-0.308],[0.429,-0.305],[0.229,-0.308],[0.237,-0.314],[0.212,-0.314],[0.07,-0.32],[0.079,-0.333],[0.065,-0.333],[0.126,-0.314],[0.116,-0.32],[0.168,-0.317],[0.186,-0.329],[0.301,-0.314],[0.35,-0.32],[0.354,-0.333],[0.306,-0.329],[0.287,-0.339],[0.306,-0.341],[0.376,-0.341],[0.468,-0.333],[0.083,-0.345],[0.116,-0.339],[0.108,-0.351],[0.16,-0.345],[0.19,-0.339],[0.039,-0.357],[0.132,-0.357],[0.151,-0.354],[0.145,-0.363],[0.287,-0.363],[0.277,-0.369],[0.421,-0.355],[0.372,-0.363],[0.086,-0.361],[0.098,-0.357],[0.141,-0.369],[0.332,-0.373],[0.456,-0.372],[0.503,-0.376],[0.098,-0.388],[0.034,-0.392],[0.015,-0.398],[0.116,-0.388],[0.125,-0.39],[0.136,-0.39],[0.181,-0.382],[0.196,-0.392],[0.207,-0.388],[0.261,-0.382],[0.311,-0.396],[0.394,-0.394],[0.363,-0.4],[0.416,-0.394],[0.501,-0.396],[0.096,-0.403],[0.157,-0.398],[0.185,-0.41],[0.277,-0.403],[0.309,-0.413],[0.372,-0.406],[0.382,-0.41],[0.101,-0.425],[0.125,-0.422],[0.015,-0.428],[0.039,-0.431],[0.16,-0.419],[0.151,-0.44],[0.363,-0.419],[0.409,-0.419],[0.427,-0.428],[0.443,-0.433],[0.212,-0.431],[0.049,-0.437],[0.008,-0.44],[0.003,-0.447],[0.305,-0.431],[0.354,-0.437],[0.405,-0.447],[0.468,-0.435],[0.081,-0.447],[0.11,-0.449],[0.157,-0.449],[0.041,-0.443],[0.367,-0.446],[0.398,-0.446],[0.462,-0.452],[0.405,-0.456],[0.101,-0.459],[0.118,-0.456],[0.268,-0.458],[0.298,-0.462],[0.303,-0.462],[0.341,-0.459],[-0.026,-0.458],[0.132,-0.462],[0.136,-0.464],[0.185,-0.464],[0.252,-0.468],[0.243,-0.477],[0.323,-0.464],[0.35,-0.472],[0.367,-0.48],[0.394,-0.474],[0.39,-0.464],[0.462,-0.472],[0.081,-0.486],[0.065,-0.493],[0.074,-0.499],[0.063,-0.505],[0.025,-0.511],[0.028,-0.523],[-0.023,-0.501],[0.092,-0.499],[0.105,-0.509],[0.112,-0.517],[0.15,-0.505],[0.194,-0.496],[0.194,-0.511],[0.172,-0.513],[0.216,-0.511],[0.225,-0.513],[0.216,-0.523],[0.265,-0.515],[0.287,-0.521],[0.309,-0.501],[0.332,-0.493],[0.314,-0.48],[0.376,-0.48],[0.354,-0.493],[0.372,-0.493],[0.372,-0.511],[0.39,-0.523],[0.412,-0.535],[0.485,-0.507],[-0.041,-0.527],[0.065,-0.529],[0.072,-0.535],[0.079,-0.548],[0.141,-0.529],[0.151,-0.538],[0.157,-0.554],[0.194,-0.529],[0.185,-0.548],[0.203,-0.548],[0.216,-0.551],[0.237,-0.548],[0.243,-0.557],[0.261,-0.548],[0.309,-0.529],[0.3,-0.548],[0.323,-0.554],[0.354,-0.535],[0.358,-0.548],[0.38,-0.542],[0.431,-0.548],[0.437,-0.56],[0.45,-0.563],[-0.001,-0.56],[0.005,-0.548],[0.086,-0.556],[0.119,-0.55],[0.021,-0.572],[0.052,-0.566],[0.052,-0.578],[0.159,-0.567],[0.16,-0.581],[0.183,-0.572],[0.287,-0.566],[0.314,-0.572],[0.343,-0.566],[0.363,-0.56],[0.398,-0.566],[0.409,-0.578],[0.278,-0.585],[0.296,-0.585],[0.341,-0.581],[0.354,-0.578],[0.105,-0.579],[0.101,-0.591],[0.092,-0.597],[-0.023,-0.587],[0.027,-0.597],[0.034,-0.601],[0.052,-0.609],[0.496,-0.595],[0.471,-0.593],[0.225,-0.587],[0.24,-0.603],[0.256,-0.609],[0.225,-0.603],[0.287,-0.597],[0.309,-0.599],[0.327,-0.597],[0.336,-0.609],[0.354,-0.597],[-0.049,-0.619],[-0.012,-0.612],[0.032,-0.622],[0.072,-0.628],[0.15,-0.622],[0.222,-0.619],[0.225,-0.634],[0.269,-0.625],[0.291,-0.628],[0.309,-0.622],[0.332,-0.615],[0.36,-0.632],[0.385,-0.615],[0.39,-0.628],[0.274,-0.644],[0.291,-0.646],[0.314,-0.636],[0.332,-0.64],[0.341,-0.649],[0.385,-0.646],[0.445,-0.64],[0.467,-0.634],[-0.032,-0.649],[0.056,-0.652],[0.092,-0.661],[0.127,-0.658],[0.237,-0.649],[0.252,-0.64],[0.287,-0.658],[0.143,-0.674],[0.163,-0.683],[0.19,-0.686],[0.403,-0.673],[0.48,-0.679],[-0.043,-0.703],[0.079,-0.702],[0.296,-0.716]];
const gmmCenters = [[-0.472,0.551],[-0.183,0.395],[0.161,0.259],[-0.178,-0.289],[0.227,-0.412]];

// panel C, contour lines of the mixture
const contourOuterLeft = [[-0.532,0.771],[-0.595,0.745],[-0.643,0.674],[-0.663,0.57],[-0.648,0.466],[-0.605,0.376],[-0.527,0.291],[-0.45,0.207],[-0.353,0.13],[-0.304,0.071],[-0.295,0.026],[-0.309,-0.026],[-0.353,-0.104],[-0.401,-0.194],[-0.421,-0.285],[-0.406,-0.389],[-0.362,-0.479],[-0.295,-0.563],[-0.207,-0.602],[-0.13,-0.615],[-0.062,-0.654],[0.049,-0.719]];
const contourOuterRight = [[-0.256,0.771],[-0.159,0.732],[-0.062,0.687],[0,0.654],[0.083,0.622],[0.18,0.609],[0.277,0.57],[0.355,0.518],[0.413,0.389],[0.432,0.246],[0.408,0.13],[0.374,0.026],[0.374,-0.039],[0.442,-0.168],[0.5,-0.259]];
const contourWaistLeft = [[-0.44,0.728],[-0.527,0.719],[-0.595,0.661],[-0.624,0.57],[-0.605,0.466],[-0.547,0.376],[-0.469,0.285],[-0.391,0.194],[-0.314,0.117],[-0.207,0.091],[-0.101,0.052],[-0.086,0.013],[-0.13,-0.026],[-0.236,-0.065],[-0.314,-0.142],[-0.343,-0.259],[-0.324,-0.363],[-0.275,-0.453],[-0.207,-0.518],[-0.13,-0.544],[-0.052,-0.57],[0.045,-0.635],[0.132,-0.687],[0.229,-0.719],[0.316,-0.712],[0.393,-0.674]];
const contourWaistRight = [[-0.314,0.719],[-0.256,0.699],[-0.159,0.661],[-0.062,0.622],[0,0.583],[0.112,0.544],[0.229,0.492],[0.326,0.402],[0.374,0.298],[0.374,0.194],[0.316,0.065],[0.272,-0.026],[0.316,-0.104],[0.422,-0.259],[0.49,-0.402]];
const contourCorner = [[0.443,-0.646],[0.5,-0.566]];
const contourUpper06 = [[-0.421,0.667],[-0.488,0.648],[-0.537,0.583],[-0.547,0.492],[-0.508,0.402],[-0.44,0.311],[-0.362,0.22],[-0.275,0.168],[-0.188,0.13],[-0.11,0.078],[0,0.039],[0.083,0.006],[0.18,0.026],[0.267,0.091],[0.311,0.194],[0.306,0.298],[0.229,0.402],[0.132,0.479],[0,0.505],[-0.062,0.544],[-0.159,0.596],[-0.256,0.635],[-0.353,0.667]];
const contourUpper08 = [[-0.391,0.525],[-0.353,0.583],[-0.275,0.589],[-0.159,0.557],[-0.062,0.499],[0,0.46],[0.132,0.44],[0.219,0.363],[0.267,0.272],[0.258,0.181],[0.2,0.104],[0.112,0.078],[0,0.117],[-0.081,0.168],[-0.178,0.22],[-0.275,0.285],[-0.353,0.376],[-0.387,0.453]];
const contourUpper10 = [[-0.314,0.479],[-0.256,0.505],[-0.159,0.479],[-0.062,0.427],[0,0.395],[0.112,0.395],[0.19,0.337],[0.224,0.259],[0.2,0.168],[0.122,0.13],[0.025,0.162],[-0.062,0.207],[-0.159,0.272],[-0.246,0.337],[-0.304,0.402]];
const contourUpper14 = [[0.035,0.324],[0.112,0.356],[0.18,0.311],[0.209,0.246],[0.171,0.181],[0.093,0.175],[0.035,0.207],[0.011,0.272]];
const contourUpper12 = [[-0.266,0.415],[-0.217,0.453],[-0.149,0.44],[-0.11,0.389],[-0.12,0.337],[-0.188,0.337],[-0.246,0.369]];
const contourLower1 = [[-0.001,-0.277],[-0.072,-0.234],[-0.152,-0.203],[-0.197,-0.222],[-0.223,-0.283],[-0.201,-0.351],[-0.152,-0.382],[-0.086,-0.386],[-0.037,-0.406],[-0.001,-0.437],[0.079,-0.591],[0.221,-0.652],[0.389,-0.56],[0.425,-0.4],[0.363,-0.24],[0.221,-0.197],[0.088,-0.24]];
const contourLower2 = [[-0.001,-0.216],[-0.072,-0.173],[-0.152,-0.16],[-0.224,-0.179],[-0.263,-0.247],[-0.272,-0.296],[-0.25,-0.363],[-0.197,-0.431],[-0.135,-0.443],[-0.055,-0.45],[-0.001,-0.487],[0.079,-0.625],[0.221,-0.68],[0.425,-0.59],[0.46,-0.38],[0.385,-0.205],[0.221,-0.16],[0.09,-0.165]];
const contourLower3 = [[-0.001,-0.185],[-0.072,-0.136],[-0.152,-0.124],[-0.223,-0.148],[-0.286,-0.21],[-0.312,-0.296],[-0.29,-0.388],[-0.232,-0.456],[-0.161,-0.493],[-0.081,-0.499],[-0.001,-0.536],[0.07,-0.66],[0.221,-0.7],[0.45,-0.62],[0.49,-0.36],[0.4,-0.17],[0.221,-0.115],[0.09,-0.13]];
const contourRing1 = [[0.151,-0.4],[0.167,-0.351],[0.221,-0.326],[0.274,-0.345],[0.301,-0.413],[0.283,-0.48],[0.221,-0.511],[0.172,-0.486]];
const contourRing2 = [[0.101,-0.4],[0.132,-0.314],[0.221,-0.283],[0.301,-0.308],[0.345,-0.4],[0.319,-0.511],[0.221,-0.56],[0.132,-0.523]];
const contourRing3 = [[0.061,-0.388],[0.105,-0.277],[0.221,-0.24],[0.336,-0.277],[0.389,-0.4],[0.354,-0.535],[0.221,-0.609],[0.105,-0.56]];
const contourLabels = [['0.4',-0.406,0.728],['0.6',-0.387,0.667],['0.2',0.136,0.609],['1.4',0.127,0.339],['1',-0.086,-0.384],['0.2',-0.166,-0.607],['0.8',0.212,-0.16],['1.2',0.221,-0.226],['2',0.222,-0.336],['0.6',0.221,-0.677],['0.2',0.412,-0.698]];

// panel D, segmented models
const modelAll = [[-0.678,0.704],[-0.027,0.341],[0.07,-0.308],[0.159,-0.391],[0.48,-0.681]];
const modelUpper = [[-0.67,0.707],[0.224,0.199],[0.159,-0.395],[0.485,-0.677]];
const modelLower = [[-0.67,0.711],[-0.118,0.385],[-0.278,-0.133],[0.524,-0.642]];

// caption line ends, the lines are fitted to these widths
const captionRightEdges = [1344, 1291, 1335, 1311, 1258, 1330, 1343, 594];

const DEJAVU = '"DejaVu Sans", sans-serif';
const closed = pts => pts.concat([pts[0]]);

// filled density level with white contour
function level(pts, color, lineWidth) {
    return { data: closed(pts), showLine: true, fill: 'shape', backgroundColor: color, borderColor: '#f4f8fb',
        borderWidth: lineWidth === undefined ? 1.3 : lineWidth, pointRadius: 0, tension: 0.4 };
}
function samples(pts, color, radius) {
    return { data: pts, pointRadius: radius, pointBackgroundColor: color, pointBorderWidth: 0 };
}
function polyline(pts, color, width, tension) {
    return { data: pts, showLine: true, fill: false, borderColor: color, borderWidth: width, pointRadius: 0, tension: tension || 0, borderJoinStyle: 'round' };
}
function zeroLines(xr, yr) {
    const dash = { borderDash: [10, 7] };
    return [
        Object.assign(polyline([[0, yr[0]], [0, yr[1]]], '#f2202a', 2), dash),
        Object.assign(polyline([[xr[0], 0], [xr[1], 0]], '#f2202a', 2), dash)
    ];
}

function makePanel(p) {
    const canvas = document.createElement('canvas');
    canvas.width = p.box[2] - p.box[0];
    canvas.height = p.box[3] - p.box[1];
    canvas.style.left = p.box[0] + 'px';
    canvas.style.top = p.box[1] + 'px';
    document.getElementById('figure').appendChild(canvas);

    // background, frame, axis titles, legend and notes
    const panelPlugin = {
        id: 'panelPlugin',
        beforeDraw(chart) {
            const a = chart.chartArea, ctx = chart.ctx;
            if (p.background) {
                ctx.fillStyle = p.background;
                ctx.fillRect(a.left, a.top, a.right - a.left, a.bottom - a.top);
            }
        },
        afterDatasetsDraw(chart) {
            const ctx = chart.ctx;
            ctx.save();
            ctx.textAlign = 'center';
            ctx.textBaseline = 'middle';
            (p.contourLabels || []).forEach(l => {
                const x = chart.scales.x.getPixelForValue(l[1]), y = chart.scales.y.getPixelForValue(l[2]);
                ctx.font = '10px ' + DEJAVU;
                ctx.fillStyle = '#bdbdbd';
                ctx.fillText(l[0], x, y);
            });
            ctx.restore();
        },
        afterDraw(chart) {
            const a = chart.chartArea, ctx = chart.ctx;
            ctx.save();
            if (p.frame) {
                ctx.strokeStyle = p.frame;
                ctx.lineWidth = 1.5;
                ctx.strokeRect(a.left, a.top, a.right - a.left, a.bottom - a.top);
            }
            ctx.fillStyle = '#1a1a1a';
            ctx.textAlign = 'center';
            ctx.textBaseline = 'middle';
            ctx.font = '28px ' + DEJAVU;
            if (p.xTitleAt) {
                ctx.fillText('E-score', p.xTitleAt[0] - p.box[0], p.xTitleAt[1] - p.box[1]);
                ctx.save();
                ctx.translate(p.yTitleAt[0] - p.box[0], p.yTitleAt[1] - p.box[1]);
                ctx.rotate(-Math.PI / 2);
                ctx.fillText('M-score', 0, 0);
                ctx.restore();
            }
            (p.notes || []).forEach(n => {
                ctx.font = n[3] + 'px ' + DEJAVU;
                ctx.fillText(n[0], chart.scales.x.getPixelForValue(n[1]), chart.scales.y.getPixelForValue(n[2]));
            });
            if (p.legend) {
                const lg = p.legend;
                ctx.textAlign = 'left';
                ctx.font = lg.font + 'px ' + DEJAVU;
                lg.items.forEach((it, i) => {
                    const y = lg.ys[i] - p.box[1];
                    ctx.fillStyle = it[1];
                    ctx.beginPath();
                    ctx.arc(lg.dotX - p.box[0], y, 3, 0, Math.PI * 2);
                    ctx.fill();
                    ctx.fillStyle = '#1a1a1a';
                    ctx.fillText(it[0], lg.textX - p.box[0], y + 1);
                });
            }
            ctx.restore();
        }
    };

    const axis = (range, tickList, labelList, fitSize, isX) => ({
        type: 'linear', min: range[0], max: range[1],
        afterBuildTicks: scale => { scale.ticks = tickList.map(v => ({ value: v })); },
        afterFit: scale => { if (isX) scale.height = fitSize; else scale.width = fitSize; },
        grid: p.ggplot
            ? { color: '#fff', drawTicks: false, lineWidth: c => labelList.includes(c.tick.value) ? 1.4 : 0.7 }
            : { drawOnChartArea: false, color: '#666', tickLength: 7, tickWidth: 1.2 },
        border: p.ggplot ? { display: false } : { color: p.frame, width: 1.5 },
        ticks: {
            autoSkip: false,
            color: '#333',
            font: { family: DEJAVU, size: p.tickSize },
            padding: isX ? p.xTickPad : p.yTickPad,
            labelOffset: isX ? (p.xLabelOffset || 0) : 0,
            minRotation: isX ? 0 : 90,
            maxRotation: isX ? 0 : 90,
            crossAlign: isX ? 'near' : 'center',
            callback: v => labelList.includes(v) ? v.toFixed(1) : ''
        }
    });

    return new Chart(canvas.getContext('2d'), {
        type: 'scatter',
        data: { datasets: p.datasets.slice().reverse() },
        options: {
            responsive: false,
            animation: false,
            events: [],
            layout: { autoPadding: false, padding: { top: p.plot[1] - p.box[1], right: p.box[2] - p.plot[2], left: 0, bottom: 0 } },
            plugins: { legend: { display: false }, tooltip: { enabled: false }, title: { display: false } },
            scales: {
                x: axis(p.xRange, p.xTicks, p.xLabels, p.box[3] - p.plot[3], true),
                y: axis(p.yRange, p.yTicks, p.yLabels, p.plot[0] - p.box[0], false)
            }
        },
        plugins: [panelPlugin]
    });
}

// ------ A ------
const rangeAX = [-0.875, 0.879], rangeAY = [-0.879, 0.879];
makePanel({
    box: [105, 25, 680, 622], plot: [177, 59, 668, 551],
    xRange: rangeAX, yRange: rangeAY, ggplot: true, background: '#ebebeb',
    xTicks: densityGridTicks, yTicks: densityGridTicks, xLabels: densityLabelTicks, yLabels: densityLabelTicks,
    tickSize: 19, xTickPad: 10, yTickPad: 0, xTitleAt: [423, 605], yTitleAt: [133, 311],
    datasets: [
        level(aLevel0, '#132c44', 0), level(aLevel1, '#1b3d5c'), level(aLevel2, '#27537a'),
        level(aLevel3Upper, '#336a99'), level(aLevel3Lower, '#336a99'),
        level(aLevel4Upper, '#3f80b8'), level(aLevel4Lower, '#3f80b8'),
        level(aLevel5, '#4a96d6'), level(aLevel6, '#56b1f7', 1.3), level(aLevel7, '#4a96d6', 1)
    ].concat(zeroLines(rangeAX, rangeAY))
});

// ------ B ------
const rangeBX = [-0.88, 0.877], rangeBY = [-0.879, 0.879];
makePanel({
    box: [680, 25, 1255, 622], plot: [752, 63, 1243, 555],
    xRange: rangeBX, yRange: rangeBY, ggplot: true, background: '#ebebeb',
    xTicks: densityGridTicks, yTicks: densityGridTicks, xLabels: densityLabelTicks, yLabels: densityLabelTicks,
    tickSize: 19, xTickPad: 6, xLabelOffset: -2, yTickPad: 3, xTitleAt: [996, 604], yTitleAt: [699, 314],
    notes: [['LAML Samples', -0.512, -0.645, 23]],
    datasets: [
        level(bLevel0, '#132c44', 0), level(bLevel1, '#1b3d5c'), level(bLevel2, '#244d72'), level(bLevel3, '#2c5e8b'),
        level(bLevel4Upper, '#356fa3'), level(bLevel4Lower, '#356fa3'),
        level(bLevel5Upper, '#3f83bd'), level(bLevel5Lower, '#3f83bd'),
        level(bLevel6Upper, '#4b98da'), level(bLevel6Lower, '#4b98da'), level(bLevel7, '#56b1f7'),
        samples(lamlSamples, '#fb7c78', 3),
        Object.assign(polyline(closed(lamlOutline), '#1a1a1a', 1.5, 0.4), { borderDash: [7, 5] })
    ].concat(zeroLines(rangeBX, rangeBY))
});

// ------ colour bar ------
(function () {
    const canvas = document.createElement('canvas');
    canvas.width = 240; canvas.height = 85;
    canvas.style.left = '590px'; canvas.style.top = '612px';
    document.getElementById('figure').appendChild(canvas);
    new Chart(canvas.getContext('2d'), {
        type: 'scatter',
        data: { datasets: [] },
        options: {
            responsive: false, animation: false, events: [],
            layout: { autoPadding: false, padding: { top: 13, left: 13.3, right: 17.7, bottom: 0 } },
            plugins: { legend: { display: false }, tooltip: { enabled: false } },
            scales: {
                y: { display: false },
                x: {
                    type: 'linear', min: colorbarRange[0], max: colorbarRange[1],
                    afterBuildTicks: s => { s.ticks = colorbarTicks.map(v => ({ value: v })); },
                    afterFit: s => { s.height = 30; },
                    grid: { display: false }, border: { display: false },
                    ticks: { autoSkip: false, padding: -6, labelOffset: -10, color: '#1a1a1a', font: { family: DEJAVU, size: 18 }, maxRotation: 0, callback: v => v.toFixed(1) }
                }
            }
        },
        plugins: [{
            id: 'colorbar',
            beforeDraw(chart) {
                const a = chart.chartArea, ctx = chart.ctx, sx = chart.scales.x;
                const g = ctx.createLinearGradient(a.left, 0, a.right, 0);
                g.addColorStop(0, '#132b43');
                g.addColorStop(1, '#56b1f7');
                ctx.fillStyle = g;
                ctx.fillRect(a.left, a.top, a.right - a.left, a.bottom - a.top);
                ctx.strokeStyle = '#fff';
                ctx.lineWidth = 1;
                colorbarTicks.forEach(v => {
                    const x = sx.getPixelForValue(v);
                    ctx.beginPath();
                    ctx.moveTo(x, a.top); ctx.lineTo(x, a.top + 8);
                    ctx.moveTo(x, a.bottom - 8); ctx.lineTo(x, a.bottom);
                    ctx.stroke();
                });
            }
        }]
    });
})();

// ------ C ------
const rangeCX = [-0.747, 0.548], rangeCY = [-0.777, 0.829];
const contourColor = '#bdbdbd';
makePanel({
    box: [105, 755, 680, 1275], plot: [180, 769, 666, 1203],
    xRange: rangeCX, yRange: rangeCY, frame: '#6e6e6e',
    xTicks: scatterXTicks, yTicks: scatterYTicks, xLabels: scatterXTicks, yLabels: scatterYTicks,
    tickSize: 20, xTickPad: 6, yTickPad: -4, xTitleAt: [433, 1256], yTitleAt: [133, 991],
    contourLabels: contourLabels,
    legend: {
        font: 20, dotX: 211, textX: 221, ys: [1054, 1082, 1110, 1139, 1167],
        items: [['E', '#ffa500'], ['I0', '#ffc0cb'], ['I1', '#a020f0'], ['I2', '#0000ff'], ['M', '#00ff00']]
    },
    datasets: [
        contourOuterLeft, contourOuterRight, contourWaistLeft, contourWaistRight, contourCorner
    ].map(c => polyline(c, contourColor, 1, 0.4)).concat([
        contourUpper06, contourUpper08, contourUpper10, contourUpper14, contourUpper12,
        contourLower1, contourLower2, contourLower3, contourRing1, contourRing2, contourRing3
    ].map(c => polyline(closed(c), contourColor, 1, 0.4))).concat([
        samples(clusterM, '#00ff00', 3.4), samples(clusterI0, '#ffc0cb', 3.4), samples(clusterI1, '#a020f0', 3.4),
        samples(clusterI2, '#0000ff', 3.4), samples(clusterE, '#ffa500', 3.4)
    ]).concat(zeroLines(rangeCX, rangeCY)).concat([samples(gmmCenters, '#000', 7.5)])
});

// ------ D ------
const rangeDX = [-0.802, 0.55], rangeDY = [-0.863, 0.861];
const colorLower = 'rgba(255,60,60,0.62)', colorUpper = 'rgba(85,85,255,0.62)', colorCommon = 'rgba(176,8,72,0.72)';
makePanel({
    box: [680, 755, 1255, 1275], plot: [747, 768, 1236, 1206],
    xRange: rangeDX, yRange: rangeDY, frame: '#555',
    xTicks: scatterXTicks, yTicks: scatterYTicks, xLabels: scatterXTicks, yLabels: scatterYTicks,
    tickSize: 20, xTickPad: 3, yTickPad: -6, xTitleAt: [1020, 1256], yTitleAt: [700, 953],
    legend: {
        font: 16, dotX: 771, textX: 780, ys: [1124, 1146, 1169],
        items: [['Lower Path', colorLower], ['Upper Path', colorUpper], ['Common', colorCommon]]
    },
    datasets: [
        samples(clusterM, colorCommon, 3.4), samples(clusterI2, colorCommon, 3.4), samples(clusterE, colorCommon, 3.4),
        samples(clusterI0, colorLower, 3.4), samples(clusterI1, colorUpper, 3.4)
    ].concat(zeroLines(rangeDX, rangeDY)).concat([
        polyline(modelAll, '#000', 4), polyline(modelUpper, '#ff7f50', 4), polyline(modelLower, '#7fffd4', 5),
        samples(gmmCenters, '#000', 7.5)
    ])
});

// fit each caption line to the reference width
document.fonts.ready.then(() => {
    document.querySelectorAll('.cap').forEach((line, i) => {
        const target = captionRightEdges[i] - 22;
        const actual = line.getBoundingClientRect().width;
        line.style.letterSpacing = ((target - actual) / line.textContent.length).toFixed(4) + 'px';
    });
});
</script>
</body>
</html>
